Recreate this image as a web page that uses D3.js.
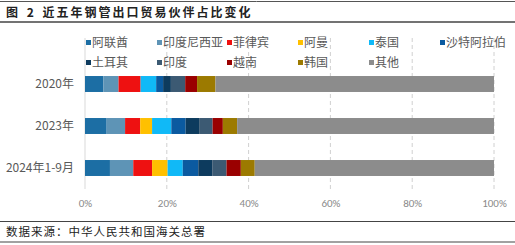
<!DOCTYPE html>
<html><head><meta charset="utf-8">
<script src="https://cdn.jsdelivr.net/npm/d3@7"></script>
<style>body{margin:0;background:#fff}svg{display:block}text{font-family:"Noto Sans CJK SC","Microsoft YaHei",sans-serif}</style>
</head><body><svg id="c" width="515" height="245"></svg>
<script>
const categories = ["2020年","2023年","2024年1-9月"];
const seriesNames = ["阿联酋","印度尼西亚","菲律宾","阿曼","泰国","沙特阿拉伯","土耳其","印度","越南","韩国","其他"];
const s_阿联酋 = [4.5, 5.3, 6.1];
const s_印度尼西亚 = [3.7, 4.5, 5.7];
const s_菲律宾 = [5.4, 3.7, 4.6];
const s_阿曼 = [0, 2.9, 3.8];
const s_泰国 = [3.8, 4.7, 3.7];
const s_沙特阿拉伯 = [1.7, 3.5, 3.8];
const s_土耳其 = [1.9, 3.3, 3.4];
const s_印度 = [3.5, 3.3, 3.5];
const s_越南 = [2.9, 2.5, 3.5];
const s_韩国 = [4.5, 3.5, 3.4];
const s_其他 = [68.1, 62.8, 58.5];
const seriesValues = [s_阿联酋,s_印度尼西亚,s_菲律宾,s_阿曼,s_泰国,s_沙特阿拉伯,s_土耳其,s_印度,s_越南,s_韩国,s_其他];
const colors = ["#1c6ea4","#5e94b6","#ee1111","#ffc000","#10b9f7","#0b5aa0","#0d3b5e","#3c5a73","#9a0000","#9c7a00","#8c8c8c"];
const tickValues = [0,20,40,60,80,100];
const title = "图 2 近五年钢管出口贸易伙伴占比变化";
const source = "数据来源：中华人民共和国海关总署";

const svg = d3.select("#c");
// header lines
svg.append("line").attr("x1",0).attr("x2",515).attr("y1",1.5).attr("y2",1.5).attr("stroke","#555").attr("stroke-width",1);
svg.append("line").attr("x1",0).attr("x2",515).attr("y1",22).attr("y2",22).attr("stroke","#444").attr("stroke-width",1.5);
svg.append("text").attr("x",6).attr("y",17).attr("font-size",12).attr("font-weight","bold").attr("fill","#222").attr("letter-spacing","2px").attr("word-spacing","2px").text(title);
svg.append("line").attr("x1",0).attr("x2",515).attr("y1",221.5).attr("y2",221.5).attr("stroke","#444").attr("stroke-width",1.2);
svg.append("line").attr("x1",0).attr("x2",515).attr("y1",242).attr("y2",242).attr("stroke","#444").attr("stroke-width",1.2);
svg.append("text").attr("x",6).attr("y",236).attr("font-size",11.5).attr("fill","#222").attr("letter-spacing","1px").text(source);

const x = d3.scaleLinear().domain([0,100]).range([85,494]);
const y = d3.scaleBand().domain(categories).range([63,189]).paddingInner(0.62).paddingOuter(0.31);

// gridlines
const g = svg.append("g");
g.selectAll("line.grid").data(tickValues.filter(d=>d>0)).join("line")
  .attr("x1",d=>x(d)).attr("x2",d=>x(d)).attr("y1",38).attr("y2",189)
  .attr("stroke","#d0d0d0").attr("stroke-dasharray","4,3").attr("stroke-width",1);
g.append("line").attr("x1",x(0)).attr("x2",x(0)).attr("y1",38).attr("y2",189).attr("stroke","#d9d9d9");

// axis
const xAxis = d3.axisBottom(x).tickValues(tickValues).tickFormat(d=>d+"%").tickSize(0);
const ax = svg.append("g").attr("transform","translate(0,196)").call(xAxis);
ax.select(".domain").remove();
ax.selectAll("text").attr("font-size",11).attr("fill","#8a8a8a").attr("dy","0.7em").style("font-family","Calibri,Carlito,'Liberation Sans',sans-serif");

const yAxis = d3.axisLeft(y).tickSize(0);
const ay = svg.append("g").attr("transform","translate(77,0)").call(yAxis);
ay.select(".domain").remove();
ay.selectAll("text").attr("font-size",12).attr("fill","#595959");

// stacked bars
const rows = categories.map((c,i)=>{const o={cat:c}; seriesNames.forEach((s,j)=>o[s]=seriesValues[j][i]); return o;});
const stack = d3.stack().keys(seriesNames)(rows);
svg.append("g").selectAll("g").data(stack).join("g").attr("fill",(d,i)=>colors[i])
  .selectAll("rect").data(d=>d).join("rect")
  .attr("x",d=>x(d[0])).attr("width",d=>x(d[1])-x(d[0]))
  .attr("y",d=>y(d.data.cat)).attr("height",y.bandwidth());

// legend
const legX = [86,157,227,298,369,440];
const leg = svg.append("g");
seriesNames.forEach((s,i)=>{
  const col = i%6, row = Math.floor(i/6);
  const lx = legX[col], ly = 43 + row*20;
  leg.append("rect").attr("x",lx).attr("y",ly-3).attr("width",5).attr("height",5).attr("fill",colors[i]);
  leg.append("text").attr("x",lx+6).attr("y",ly).attr("dy","0.35em").attr("font-size",12).attr("fill","#595959").text(s);
});
</script></body></html>
